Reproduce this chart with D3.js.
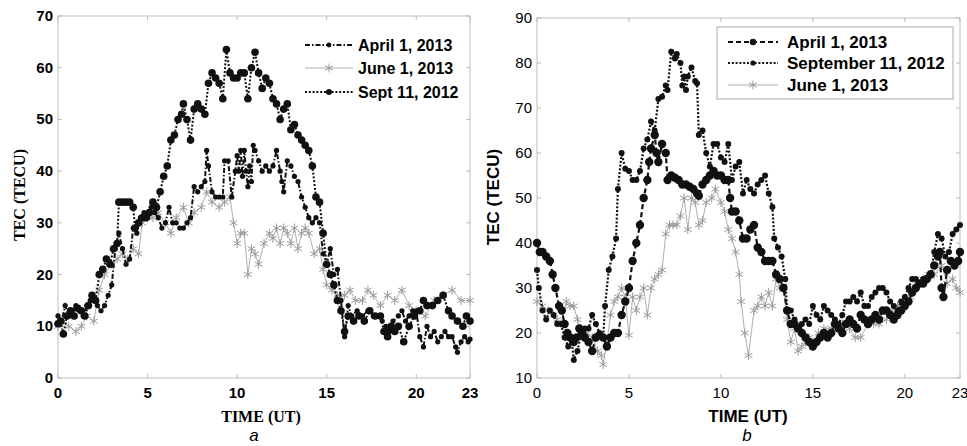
<!DOCTYPE html>
<html>
<head>
<meta charset="utf-8">
<script src="https://cdn.jsdelivr.net/npm/d3@7"></script>
<style>
  body { margin: 0; background: #fff; }
  svg { display: block; }
</style>
</head>
<body>
<script>
// page size
const W = 967;
const H = 446;

// ---- data: [time (UT), TEC (TECU)] ----
// panel a
const aApril = [[0,12],[0.2,11],[0.4,14],[0.6,12],[0.8,13],[1.0,14],[1.2,13],[1.4,12],[1.6,14],[1.8,15],[2.0,15],[2.2,14],[2.4,13],[2.6,14],[2.8,16],[3.0,18],[3.2,25],[3.4,28],[3.6,25],[3.8,22],[4.0,23],[4.2,29],[4.4,28],[4.6,31],[4.8,32],[5.0,31],[5.2,33],[5.4,32],[5.6,31],[5.8,29],[6.0,30],[6.2,33],[6.4,30],[6.6,30],[6.8,29],[7.0,29],[7.2,30],[7.4,31],[7.6,37],[7.8,36],[8.0,37],[8.2,38],[8.3,44],[8.4,41],[8.6,36],[8.8,35],[9.0,35],[9.2,35],[9.3,42],[9.5,42],[9.7,35],[9.9,40],[10.0,43],[10.1,40],[10.2,44],[10.3,39],[10.4,44],[10.5,40],[10.6,37],[10.7,41],[10.8,38],[10.9,45],[11.0,44],[11.2,42],[11.4,40],[11.6,41],[11.8,40],[12.0,41],[12.2,44],[12.4,40],[12.5,38],[12.6,36],[12.8,42],[13.0,41],[13.2,39],[13.4,38],[13.6,35],[13.8,33],[14.0,31],[14.2,30],[14.4,31],[14.6,30],[14.8,24],[15.0,22],[15.2,25],[15.4,20],[15.6,21],[15.8,15],[16.0,8],[16.2,14],[16.4,12],[16.7,13],[17.0,12],[17.3,13],[17.6,12],[17.9,12],[18.1,11],[18.3,10],[18.5,9],[18.7,11],[19.0,12],[19.2,13],[19.4,11],[19.6,12],[19.8,13],[20.0,13],[20.2,8],[20.4,6],[20.6,10],[20.8,8],[21.0,9],[21.2,7],[21.4,8],[21.6,9],[21.8,8],[22.0,8],[22.2,6],[22.3,5],[22.5,7],[22.7,8],[22.9,7],[23.0,7.5]];
const aJune = [[0,10],[0.3,11],[0.6,10],[1.0,9],[1.3,10],[1.6,12],[2.0,11],[2.3,17],[2.6,20],[3.0,22],[3.3,23],[3.6,24],[3.9,23],[4.2,25],[4.5,24],[4.7,30],[5.0,31],[5.3,31],[5.6,32],[6.0,30],[6.3,28],[6.6,31],[7.0,33],[7.3,30],[7.6,32],[8.0,33],[8.3,36],[8.6,34],[9.0,33],[9.3,34],[9.6,35],[9.8,30],[10.0,26],[10.2,28],[10.4,28],[10.6,20],[10.8,25],[11.0,24],[11.2,22],[11.5,26],[11.8,28],[12.0,27],[12.2,29],[12.4,26],[12.6,29],[12.8,28],[13.0,26],[13.2,29],[13.4,25],[13.6,28],[13.8,29],[14.0,28],[14.3,24],[14.6,25],[14.8,21],[15.0,18],[15.3,17],[15.6,16],[16.0,16],[16.3,17],[16.6,15],[17.0,15],[17.3,17],[17.6,16],[18.0,14],[18.4,16],[18.8,15],[19.2,17],[19.6,14],[20.0,13],[20.5,12],[21.0,15],[21.5,16],[22.0,17],[22.5,15],[23.0,15]];
const aSept = [[0,10.5],[0.15,11],[0.3,8.5],[0.5,12],[0.7,13],[0.9,12],[1.1,13.5],[1.3,13],[1.5,12],[1.7,14],[1.9,16],[2.1,15],[2.3,20],[2.5,21],[2.7,23],[2.9,22],[3.1,25],[3.3,26],[3.4,34],[3.6,34],[3.8,34],[4.0,34],[4.2,33],[4.3,29],[4.5,30],[4.7,31],[4.9,31],[5.1,32],[5.3,34],[5.5,33],[5.7,36],[5.9,39],[6.1,41],[6.3,46],[6.5,47],[6.7,50],[6.9,51],[7.0,53],[7.2,50],[7.4,46],[7.6,52],[7.8,53],[8.0,52],[8.2,51],[8.4,57],[8.6,59],[8.8,58],[9.0,57],[9.2,54],[9.4,63.5],[9.6,59],[9.8,58],[10.0,58],[10.2,59],[10.4,59],[10.6,54],[10.8,60],[11.0,63],[11.2,59],[11.4,56],[11.6,58],[11.8,57],[12.0,54],[12.2,53],[12.4,50],[12.6,52],[12.8,53],[13.0,48],[13.2,49],[13.4,47],[13.6,46],[13.8,45],[14.0,44],[14.2,41],[14.4,35],[14.6,34],[14.8,28],[15.0,22],[15.2,20],[15.4,18],[15.6,15],[15.8,13],[16.0,9],[16.2,12],[16.5,11],[16.8,12],[17.1,11],[17.4,13],[17.7,12],[18.0,12],[18.2,9],[18.4,8],[18.6,10],[18.8,9],[19.0,10],[19.3,7],[19.6,10],[19.9,12],[20.2,13],[20.4,15],[20.6,14],[20.9,14],[21.2,15],[21.5,16],[21.8,13],[22.0,12],[22.3,11],[22.6,10],[22.8,12],[23.0,11]];

// panel b
const bApril = [[0,40],[0.15,38],[0.3,38],[0.5,37],[0.7,36],[0.85,33],[1.0,30],[1.2,26],[1.35,25],[1.5,22],[1.65,20],[1.8,19],[2.0,18],[2.15,19],[2.3,21],[2.45,20],[2.6,19],[2.8,18],[3.0,16],[3.2,19],[3.4,19.5],[3.6,19],[3.8,17],[4.0,19],[4.2,20],[4.4,20],[4.6,24],[4.8,27],[5.0,30],[5.2,36],[5.4,40],[5.6,44],[5.8,50],[6.0,54],[6.1,58],[6.2,61],[6.4,64],[6.5,60],[6.6,58],[6.8,62],[7.0,60],[7.1,54],[7.3,55],[7.5,54.5],[7.7,54],[7.9,53],[8.1,53],[8.3,52.5],[8.5,52],[8.7,51],[8.8,50.5],[9.0,53],[9.2,54],[9.4,55],[9.6,56],[9.8,55],[10.0,55],[10.2,54],[10.4,54],[10.5,50],[10.6,47],[10.8,47],[11.0,45],[11.2,41],[11.4,41],[11.6,43],[11.8,44],[12.0,39],[12.2,38],[12.4,36],[12.6,36],[12.8,36],[13.0,33],[13.2,32],[13.4,30],[13.6,25],[13.8,22],[14.0,22],[14.2,21],[14.4,20],[14.6,19],[14.8,18],[15.0,17],[15.2,18],[15.4,19],[15.6,20],[15.8,19],[16.0,20],[16.2,22],[16.4,21],[16.6,20],[16.8,22],[17.0,23],[17.2,22],[17.4,21],[17.6,24],[17.8,23],[18.0,22],[18.2,23],[18.4,24],[18.6,23],[18.8,25],[19.0,25],[19.2,24],[19.4,23],[19.6,24],[19.8,25],[20.0,26],[20.2,27],[20.4,29],[20.6,30],[20.8,31],[21.0,31],[21.2,32],[21.4,33],[21.6,35],[21.8,37],[21.9,38],[22.0,30],[22.1,28],[22.3,34],[22.5,36],[22.7,35],[22.9,36],[23.0,38]];
const bSept = [[0,34],[0.1,30],[0.3,25],[0.5,23],[0.7,25],[0.9,24],[1.1,22],[1.3,22],[1.5,19],[1.7,17],[1.9,18],[2.0,14],[2.2,16],[2.4,20],[2.6,21],[2.8,21],[3.0,24],[3.2,22],[3.4,20],[3.6,19],[3.7,26],[3.9,34],[4.1,37],[4.3,41],[4.4,52],[4.6,60],[4.8,56.5],[5.0,56],[5.2,54],[5.4,54],[5.6,56],[5.8,61],[6.0,63],[6.2,67],[6.4,65],[6.6,72],[6.8,72.5],[7.0,75],[7.1,74],[7.3,82.5],[7.5,81],[7.6,82],[7.8,80],[7.9,75],[8.0,77],[8.1,74],[8.2,77],[8.4,79],[8.6,76],[8.7,75.5],[8.8,64],[9.0,65],[9.2,60],[9.4,57],[9.6,62],[9.8,62],[10.0,59],[10.2,58],[10.4,62],[10.6,54],[10.8,57],[11.0,58],[11.2,51],[11.4,54],[11.6,52],[11.8,51],[12.0,53],[12.2,54],[12.4,55],[12.6,51],[12.8,48],[12.9,41],[13.1,39],[13.3,37],[13.5,32],[13.6,25],[13.8,25],[14.0,23],[14.2,21],[14.4,22],[14.6,23],[14.8,22],[15.0,26],[15.2,24],[15.4,23],[15.6,26],[15.8,25],[16.0,24],[16.2,23],[16.4,22],[16.6,24],[16.8,27],[17.0,27],[17.2,28],[17.4,27],[17.6,29],[17.8,26],[18.0,26],[18.2,28],[18.4,29],[18.6,30],[18.8,30],[19.0,29],[19.2,27],[19.4,26],[19.6,25],[19.8,27],[20.0,28],[20.2,30],[20.4,32],[20.6,32],[20.8,31],[21.0,32],[21.2,32],[21.4,33],[21.6,38],[21.8,42],[22.0,41],[22.2,37],[22.4,38],[22.6,42],[22.8,43],[23.0,44]];
const bJune = [[0,27],[0.3,26],[0.6,25],[0.9,24],[1.1,23],[1.3,22],[1.6,27],[1.8,26],[2.0,26],[2.2,23],[2.4,21],[2.7,20],[3.0,19],[3.3,16],[3.5,15],[3.6,13],[3.8,18],[4.0,24],[4.2,27],[4.4,28],[4.6,30],[4.8,28],[5.0,19.5],[5.2,28],[5.4,25],[5.6,28],[5.8,30],[6.0,24],[6.2,30],[6.4,32],[6.6,33],[6.8,34],[7.0,42],[7.2,44],[7.4,44],[7.6,44],[7.8,46],[8.0,50],[8.2,43],[8.4,50],[8.6,49],[8.8,44],[9.0,45],[9.2,49],[9.5,50],[9.7,52],[10.0,49],[10.2,47],[10.4,43],[10.6,41],[10.8,38],[11.0,33],[11.1,27],[11.3,20],[11.5,15],[11.8,25],[12.0,26],[12.2,28],[12.4,26],[12.6,29],[12.8,26],[13.0,32],[13.2,30],[13.4,30],[13.6,23],[13.8,18],[14.0,21],[14.2,16],[14.4,17],[14.6,18],[14.8,19],[15.0,18],[15.3,20],[15.6,21],[16.0,21],[16.3,22],[16.6,22],[17.0,21],[17.3,19],[17.6,19],[18.0,22],[18.3,22],[18.6,22],[19.0,23],[19.3,25],[19.6,26],[20.0,27],[20.3,28],[20.6,31],[21.0,32],[21.3,33],[21.6,33],[22.0,35],[22.3,31],[22.6,32],[22.8,30],[23.0,29]];

// ticks
const xTicks = [0, 5, 10, 15, 20, 23];
const aYTicks = [0, 10, 20, 30, 40, 50, 60, 70];
const bYTicks = [10, 20, 30, 40, 50, 60, 70, 80, 90];

const svg = d3.select("body")
    .append("svg")
    .attr("width", W)
    .attr("height", H);

const axisColor = "#bdbdbd";

// a star marker for the June series
const star = d3.symbol().type(d3.symbolAsterisk).size(55);

function drawPanel(p) {
    let x = d3.scaleLinear().domain([0, 23]).range([p.left, p.right]);
    let y = d3.scaleLinear().domain(p.yDomain).range([p.bottom, p.top]);

    let g = svg.append("g");

    // box
    g.append("rect")
        .attr("x", p.left).attr("y", p.top)
        .attr("width", p.right - p.left).attr("height", p.bottom - p.top)
        .attr("fill", "none").attr("stroke", axisColor).attr("stroke-width", 1);

    // ticks inside, on all four sides
    let tk = 4;
    xTicks.forEach(function (t) {
        g.append("line").attr("x1", x(t)).attr("x2", x(t))
            .attr("y1", p.bottom).attr("y2", p.bottom - tk).attr("stroke", axisColor);
        g.append("line").attr("x1", x(t)).attr("x2", x(t))
            .attr("y1", p.top).attr("y2", p.top + tk).attr("stroke", axisColor);
    });
    p.yTicks.forEach(function (t) {
        g.append("line").attr("x1", p.left).attr("x2", p.left + tk)
            .attr("y1", y(t)).attr("y2", y(t)).attr("stroke", axisColor);
        g.append("line").attr("x1", p.right).attr("x2", p.right - tk)
            .attr("y1", y(t)).attr("y2", y(t)).attr("stroke", axisColor);
    });

    // tick labels
    g.selectAll(".xl").data(xTicks).enter().append("text")
        .attr("x", function (d) { return x(d); })
        .attr("y", p.bottom + 20)
        .attr("text-anchor", "middle")
        .style("font", p.tickFont)
        .text(function (d) { return d; });
    g.selectAll(".yl").data(p.yTicks).enter().append("text")
        .attr("x", p.left - 5)
        .attr("y", function (d) { return y(d) + 5; })
        .attr("text-anchor", "end")
        .style("font", p.tickFont)
        .text(function (d) { return d; });

    // axis titles
    g.append("text")
        .attr("x", p.xTitleX).attr("y", 422)
        .attr("text-anchor", "middle")
        .style("font", p.titleFont)
        .text("TIME (UT)");
    g.append("text")
        .attr("transform", "translate(" + p.yTitleX + "," + p.yTitleY + ") rotate(-90)")
        .attr("text-anchor", "middle")
        .style("font", p.titleFont)
        .text("TEC (TECU)");

    // panel letter
    g.append("text")
        .attr("x", p.letterX).attr("y", 441)
        .attr("text-anchor", "middle")
        .style("font", "italic 17px 'Liberation Sans', Arial, sans-serif")
        .text(p.letter);

    let line = d3.line()
        .x(function (d) { return x(d[0]); })
        .y(function (d) { return y(d[1]); });

    // series
    p.series.forEach(function (s) {
        g.append("path")
            .datum(s.data)
            .attr("fill", "none")
            .attr("stroke", s.color)
            .attr("stroke-width", s.width)
            .attr("stroke-dasharray", s.dash)
            .attr("d", line);
        drawMarkers(g, s, s.data, x, y);
    });

    // legend
    let lg = g.append("g");
    if (p.legendBox) {
        lg.append("rect")
            .attr("x", p.legendBox[0]).attr("y", p.legendBox[1])
            .attr("width", p.legendBox[2]).attr("height", p.legendBox[3])
            .attr("fill", "#fff").attr("stroke", "#aaa");
    }
    p.legend.forEach(function (s, i) {
        let ly = p.legendRows[i];
        lg.append("path")
            .attr("d", "M" + p.legendX0 + "," + ly + "H" + p.legendX1)
            .attr("fill", "none")
            .attr("stroke", s.color)
            .attr("stroke-width", s.width)
            .attr("stroke-dasharray", s.dash);
        let cx = (p.legendX0 + p.legendX1) / 2;
        drawMarkers(lg, s, [[0, 0]], function () { return cx; }, function () { return ly; });
        lg.append("text")
            .attr("x", p.legendText).attr("y", ly + 6)
            .style("font", p.legendFont)
            .text(s.name);
    });
}

function drawMarkers(g, s, data, x, y) {
    if (s.marker === "star") {
        g.selectAll(null).data(data).enter().append("path")
            .attr("transform", function (d) { return "translate(" + x(d[0]) + "," + y(d[1]) + ")"; })
            .attr("d", star)
            .attr("fill", "none")
            .attr("stroke", "#999")
            .attr("stroke-width", 1);
    } else {
        g.selectAll(null).data(data).enter().append("circle")
            .attr("cx", function (d) { return x(d[0]); })
            .attr("cy", function (d) { return y(d[1]); })
            .attr("r", s.r)
            .attr("fill", "#111");
    }
}

const fontSans = "'Liberation Sans', Arial, Helvetica, sans-serif";
const fontSerif = "'Liberation Serif', 'Times New Roman', serif";

// panel a
drawPanel({
    left: 58, right: 470, top: 16, bottom: 378,
    yDomain: [0, 70], yTicks: aYTicks,
    tickFont: "bold 15px " + fontSans,
    titleFont: "bold 16px " + fontSerif,
    legendFont: "bold 16px " + fontSans,
    xTitleX: 261, yTitleX: 25, yTitleY: 195, letterX: 254, letter: "a",
    series: [
        { name: "June 1, 2013", data: aJune, color: "#b0b0b0", width: 1, dash: null, marker: "star" },
        { name: "April 1, 2013", data: aApril, color: "#111", width: 2, dash: "5,2,1.5,2", marker: "dot", r: 2.6 },
        { name: "Sept 11, 2012", data: aSept, color: "#111", width: 2, dash: "2,1.8", marker: "dot", r: 3.8 }
    ],
    legend: [
        { name: "April 1, 2013", color: "#111", width: 2, dash: "5,2,1.5,2", marker: "dot", r: 2.4 },
        { name: "June 1, 2013", color: "#b0b0b0", width: 1, dash: null, marker: "star" },
        { name: "Sept 11, 2012", color: "#111", width: 2, dash: "2,1.8", marker: "dot", r: 3 }
    ],
    legendRows: [45, 68, 92], legendX0: 305, legendX1: 353, legendText: 358,
    legendBox: null
});

// panel b
drawPanel({
    left: 537, right: 960, top: 18, bottom: 378,
    yDomain: [10, 90], yTicks: bYTicks,
    tickFont: "15px " + fontSans,
    titleFont: "bold 17px " + fontSans,
    legendFont: "bold 17px " + fontSans,
    xTitleX: 748, yTitleX: 499, yTitleY: 197, letterX: 747, letter: "b",
    series: [
        { name: "June 1, 2013", data: bJune, color: "#b0b0b0", width: 1, dash: null, marker: "star" },
        { name: "April 1, 2013", data: bApril, color: "#111", width: 2.2, dash: "5,3", marker: "dot", r: 4.2 },
        { name: "September 11, 2012", data: bSept, color: "#111", width: 2.2, dash: "2,1.8", marker: "dot", r: 3 }
    ],
    legend: [
        { name: "April 1, 2013", color: "#111", width: 2.2, dash: "5,3", marker: "dot", r: 3.2 },
        { name: "September 11, 2012", color: "#111", width: 2.2, dash: "2,1.8", marker: "dot", r: 2.6 },
        { name: "June 1, 2013", color: "#b0b0b0", width: 1, dash: null, marker: "star" }
    ],
    legendRows: [42, 63, 85], legendX0: 728, legendX1: 778, legendText: 787,
    legendBox: [717, 27, 236, 72]
});
</script>
</body>
</html>
